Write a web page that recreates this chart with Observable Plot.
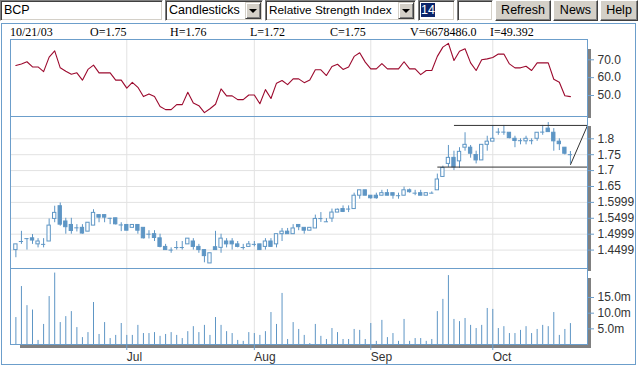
<!DOCTYPE html>
<html>
<head>
<meta charset="utf-8">
<script src="https://cdn.jsdelivr.net/npm/d3@7"></script>
<script src="https://cdn.jsdelivr.net/npm/@observablehq/plot@0.6"></script>
<style>
html,body{margin:0;padding:0;background:#fff;}
body{width:638px;height:365px;overflow:hidden;position:relative;font-family:"Liberation Sans",Arial,sans-serif;}
.abs{position:absolute;}
.inset{background:#fff;box-sizing:border-box;border:1px solid;border-color:#808080 #fff #fff #808080;box-shadow:inset 1px 1px #404040, inset -1px -1px #d4d0c8;font-size:12.5px;line-height:19px;padding-left:3px;color:#000;white-space:nowrap;overflow:hidden;}
.btn{background:#d4d0c8;box-sizing:border-box;border:1px solid;border-color:#fff #404040 #404040 #fff;box-shadow:inset -1px -1px #808080;font-size:12.5px;line-height:19px;text-align:center;color:#000;}
.arr{position:absolute;right:1px;top:1px;width:16px;height:17px;box-sizing:border-box;background:#d4d0c8;border:1px solid;border-color:#d4d0c8 #404040 #404040 #d4d0c8;box-shadow:inset 1px 1px #fff, inset -1px -1px #808080;}
.arr::after{content:"";position:absolute;left:3px;top:6px;border-left:4px solid transparent;border-right:4px solid transparent;border-top:4px solid #000;}
.info{position:absolute;top:26px;font-family:"Liberation Serif","Times New Roman",serif;font-size:12px;line-height:12px;color:#000;white-space:nowrap;}
.shadow{position:absolute;background:#808080;}
#plots{position:absolute;left:0;top:0;width:635px;height:365px;overflow:hidden;}
#plots svg{position:absolute;left:0;}
</style>
</head>
<body>
<div class="abs inset" style="left:0;top:0;width:163px;height:21px;">BCP</div>
<div class="abs inset" style="left:165px;top:0;width:98px;height:21px;">Candlesticks<div class="arr"></div></div>
<div class="abs inset" style="left:265px;top:0;width:151px;height:21px;font-size:11.8px;">Relative Strength Index<div class="arr"></div></div>
<div class="abs inset" style="left:418px;top:0;width:37px;height:21px;padding-left:2px;"><span style="background:#0a246a;color:#fff;">14</span></div>
<div class="abs inset" style="left:457px;top:0;width:36px;height:21px;"></div>
<div class="abs btn" style="left:495px;top:0;width:56px;height:21px;">Refresh</div>
<div class="abs btn" style="left:553px;top:0;width:45px;height:21px;">News</div>
<div class="abs btn" style="left:600px;top:0;width:38px;height:21px;">Help</div>
<div id="info"></div>
<div class="shadow" style="left:20px;top:49px;width:571px;height:69px;"></div>
<div class="shadow" style="left:20px;top:126px;width:571px;height:145px;"></div>
<div class="shadow" style="left:20px;top:278px;width:571px;height:70px;"></div>
<div id="plots"></div>
<div class="abs" style="left:1px;top:23px;width:635px;height:342px;box-sizing:border-box;border:1px solid #6c9ecb;"></div>
<script>
// ---- data ----
const monthIdx = [20, 43, 64, 86];
const monthLabels = ["Jul", "Aug", "Sep", "Oct"];

const open = [1.45,1.477,1.486,1.487,1.468,1.468,1.477,1.548,1.588,1.54,
1.529,1.52,1.52,1.508,1.527,1.56,1.56,1.55,1.55,1.529,
1.529,1.52,1.529,1.52,1.5,1.5,1.487,1.46,1.45,1.458,
1.458,1.468,1.477,1.46,1.45,1.408,1.459,1.457,1.477,1.477,
1.468,1.458,1.46,1.468,1.468,1.46,1.477,1.468,1.5,1.508,
1.5,1.529,1.52,1.511,1.518,1.549,1.539,1.549,1.568,1.579,
1.579,1.579,1.621,1.638,1.621,1.621,1.621,1.629,1.629,1.621,
1.621,1.638,1.629,1.629,1.621,1.629,1.638,1.68,1.721,1.74,
1.729,1.772,1.772,1.749,1.732,1.781,1.791,1.821,1.821,1.819,
1.8,1.794,1.792,1.794,1.8,1.821,1.832,1.819,1.791,1.772,1.75];
const high = [1.468,1.509,1.486,1.499,1.486,1.486,1.548,1.588,1.598,1.55,
1.55,1.53,1.53,1.536,1.577,1.56,1.56,1.55,1.55,1.536,
1.529,1.529,1.529,1.52,1.511,1.511,1.5,1.468,1.457,1.477,
1.477,1.486,1.486,1.468,1.45,1.44,1.509,1.5,1.486,1.486,
1.477,1.468,1.477,1.477,1.468,1.486,1.486,1.5,1.518,1.518,
1.53,1.529,1.52,1.52,1.56,1.568,1.549,1.579,1.579,1.589,
1.589,1.629,1.638,1.638,1.621,1.629,1.638,1.64,1.629,1.629,
1.648,1.642,1.638,1.638,1.629,1.633,1.689,1.714,1.779,1.761,
1.772,1.819,1.779,1.761,1.781,1.808,1.842,1.832,1.842,1.819,
1.808,1.8,1.808,1.8,1.819,1.842,1.851,1.832,1.8,1.772,1.76];
const low = [1.426,1.468,1.45,1.468,1.457,1.457,1.477,1.536,1.525,1.5,
1.5,1.507,1.5,1.508,1.527,1.536,1.536,1.53,1.529,1.508,
1.511,1.52,1.5,1.485,1.485,1.477,1.457,1.45,1.44,1.45,
1.45,1.468,1.45,1.44,1.41,1.408,1.45,1.44,1.457,1.45,
1.457,1.45,1.46,1.46,1.45,1.45,1.46,1.457,1.477,1.5,
1.5,1.511,1.5,1.511,1.518,1.537,1.537,1.537,1.568,1.568,
1.568,1.579,1.61,1.621,1.61,1.61,1.621,1.621,1.61,1.61,
1.621,1.629,1.621,1.621,1.621,1.627,1.638,1.68,1.71,1.70,
1.707,1.761,1.739,1.721,1.732,1.761,1.791,1.811,1.811,1.8,
1.772,1.781,1.781,1.781,1.792,1.811,1.821,1.761,1.763,1.749,1.72];
const close = [1.468,1.477,1.486,1.48,1.477,1.468,1.527,1.567,1.53,1.522,
1.51,1.52,1.502,1.536,1.567,1.552,1.552,1.55,1.531,1.529,
1.511,1.529,1.511,1.487,1.5,1.488,1.46,1.45,1.45,1.458,
1.458,1.486,1.46,1.45,1.431,1.44,1.45,1.486,1.468,1.468,
1.46,1.458,1.468,1.468,1.45,1.477,1.46,1.5,1.508,1.5,
1.518,1.522,1.511,1.52,1.548,1.549,1.539,1.568,1.577,1.57,
1.579,1.621,1.638,1.621,1.613,1.613,1.629,1.621,1.621,1.621,
1.638,1.632,1.629,1.621,1.629,1.629,1.672,1.708,1.74,1.71,
1.759,1.781,1.753,1.732,1.781,1.791,1.8,1.821,1.821,1.802,
1.793,1.794,1.8,1.794,1.819,1.821,1.821,1.792,1.783,1.753,1.75];
// volume in millions
const volume = [8.6,18.5,12.4,11.0,1.3,6.4,15.3,22.8,7.0,8.9,
10.5,5.4,2.2,3.8,13.4,3.2,7.0,1.9,2.9,6.7,
2.9,2.9,6.1,3.5,3.5,3.8,2.6,3.2,3.8,2.9,
1.9,4.1,5.7,3.8,6.1,2.9,8.6,6.1,4.1,3.5,
1.3,1.0,3.8,3.5,2.9,4.1,10.2,6.4,16.3,1.6,
7.0,4.8,2.9,0.3,6.4,2.6,1.6,5.1,3.8,1.6,
1.6,4.8,4.5,1.6,6.7,1.0,7.7,2.2,3.5,1.0,
8.0,1.0,1.9,1.9,1.0,1.6,10.5,14.4,22.0,8.0,
7.3,8.3,6.1,5.1,6.1,11.5,11.2,5.1,5.7,3.5,
3.5,4.5,5.7,3.5,4.8,6.1,5.7,10.2,2.9,4.8,6.678];
const rsi = [66.8,67.7,68.9,66.0,66.0,63.4,71.5,75.0,65.5,63.6,
61.9,62.7,58.6,64.6,67.0,62.7,62.7,62.7,58.6,58.6,
54.1,57.4,54.6,49.4,50.9,49.4,43.8,42.1,42.1,44.9,
44.9,51.8,45.8,44.3,40.4,42.6,45.1,53.7,49.8,49.8,
47.7,47.7,50.3,50.3,45.4,53.3,48.3,56.9,58.4,56.1,
59.3,59.3,57.2,58.7,64.4,64.4,61.2,66.2,67.5,64.6,
66.0,71.9,73.9,68.7,64.9,64.9,67.9,64.9,64.9,64.9,
68.9,64.9,64.9,61.7,64.0,64.0,71.9,77.1,79.2,69.6,
74.8,76.2,68.3,64.0,70.0,70.5,71.3,73.2,73.2,67.7,
65.5,65.5,66.4,64.0,68.3,68.3,68.3,59.1,57.4,49.9,49.392];

const rsiTicks = [50, 60, 70];
const rsiLabels = ["50.0", "60.0", "70.0"];
const priceTicks = [1.45, 1.5, 1.55, 1.6, 1.65, 1.7, 1.75, 1.8];
const priceLabels = ["1.4499", "1.4999", "1.5499", "1.5999", "1.65", "1.7", "1.75", "1.8"];
const volTicks = [5, 10, 15];
const volLabels = ["5.0m", "10.0m", "15.0m"];

// trend lines drawn on the price panel
const trendX1 = [79, 76, 100];
const trendY1 = [1.842, 1.711, 1.718];
const trendX2 = [103.08, 103.08, 103.08];
const trendY2 = [1.842, 1.711, 1.842];

const infoLabels = ["10/21/03", "O=1.75", "H=1.76", "L=1.72", "C=1.75", "V=6678486.0", "I=49.392"];

// ---- build ----
const BLUE = "#6c9ecb", CANDLE = "#5e96c5", GRID = "#e2e2e2", RED = "#9c0a2e", TXT = "#333";
const X_DOMAIN = [-0.97, 103.08];

const info = document.getElementById("info");
infoLabels.forEach((t, k) => {
  const s = document.createElement("div");
  s.className = "info";
  s.style.left = (10 + 80 * k) + "px";
  s.textContent = t;
  info.appendChild(s);
});

const bars = open.map((o, i) => ({i, open: o, high: high[i], low: low[i], close: close[i], vol: volume[i], rsi: rsi[i]}));
const bodies = bars.filter(d => d.open !== d.close);
const dojis = bars.filter(d => d.open === d.close);
const trends = trendX1.map((x, k) => ({x1: x, y1: trendY1[k], x2: trendX2[k], y2: trendY2[k]}));

const mapOf = (ticks, labels) => new Map(ticks.map((t, i) => [t, labels[i]]));
const priceLab = mapOf(priceTicks, priceLabels);
const rsiLab = mapOf(rsiTicks, rsiLabels);
const volLab = mapOf(volTicks, volLabels);
const monLab = mapOf(monthIdx, monthLabels);

const common = {
  width: 635, marginLeft: 10, marginRight: 48, marginTop: 0,
  x: {domain: X_DOMAIN, axis: null},
  style: {fontFamily: "'Liberation Sans', Arial, sans-serif", fontSize: "12px", background: "transparent", overflow: "visible", color: TXT}
};
const rightAxis = (ticks, lab) => Plot.axisY(ticks, {anchor: "right", tickSize: 6, tickPadding: 4, tickFormat: d => lab.get(d), stroke: BLUE, fill: TXT, fontSize: 12, textAnchor: "start", label: null});

const rsiPlot = Plot.plot({
  ...common, height: 77, marginBottom: 0,
  y: {domain: [38.24, 81.37], axis: null},
  marks: [
    Plot.frame({fill: "white", stroke: "none"}),
    Plot.gridX(monthIdx, {stroke: GRID, strokeOpacity: 1}),
    Plot.line(bars, {x: "i", y: "rsi", stroke: RED, strokeWidth: 1.1}),
    Plot.frame({stroke: BLUE}),
    rightAxis(rsiTicks, rsiLab)
  ]
});

const candlePlot = Plot.plot({
  ...common, height: 152, marginBottom: 0,
  y: {domain: [1.3921, 1.8701], axis: null},
  marks: [
    Plot.frame({fill: "white", stroke: "none"}),
    Plot.gridY(priceTicks, {stroke: GRID, strokeOpacity: 1}),
    Plot.gridX(monthIdx, {stroke: GRID, strokeOpacity: 1}),
    Plot.ruleX(bars, {x: "i", y1: "low", y2: "high", stroke: CANDLE, strokeWidth: 1}),
    Plot.rect(bodies, {x1: d => d.i - 0.3, x2: d => d.i + 0.3, y1: "open", y2: "close",
      fill: d => d.close > d.open ? "white" : CANDLE, stroke: CANDLE, strokeWidth: 1}),
    Plot.ruleY(dojis, {y: "close", x1: d => d.i - 0.38, x2: d => d.i + 0.38, stroke: CANDLE, strokeWidth: 1}),
    Plot.link(trends, {x1: "x1", y1: "y1", x2: "x2", y2: "y2", stroke: "#333", strokeWidth: 1}),
    Plot.frame({stroke: BLUE}),
    rightAxis(priceTicks, priceLab)
  ]
});

const volPlot = Plot.plot({
  ...common, height: 96, marginBottom: 20,
  y: {domain: [0, 24.26], axis: null},
  marks: [
    Plot.frame({fill: "white", stroke: "none"}),
    Plot.gridX(monthIdx, {stroke: GRID, strokeOpacity: 1}),
    Plot.ruleX(bars, {x: "i", y1: 0, y2: "vol", stroke: CANDLE, strokeWidth: 1}),
    Plot.frame({stroke: BLUE}),
    rightAxis(volTicks, volLab),
    Plot.axisX(monthIdx, {anchor: "bottom", tickSize: 6, tickPadding: 2, tickFormat: d => monLab.get(d), stroke: BLUE, fill: TXT, fontSize: 12, textAnchor: "start", label: null})
  ]
});

const holder = document.getElementById("plots");
[[rsiPlot, 39], [candlePlot, 116], [volPlot, 268]].forEach(([p, top]) => {
  p.style.top = top + "px";
  holder.appendChild(p);
});
</script>
</body>
</html>
